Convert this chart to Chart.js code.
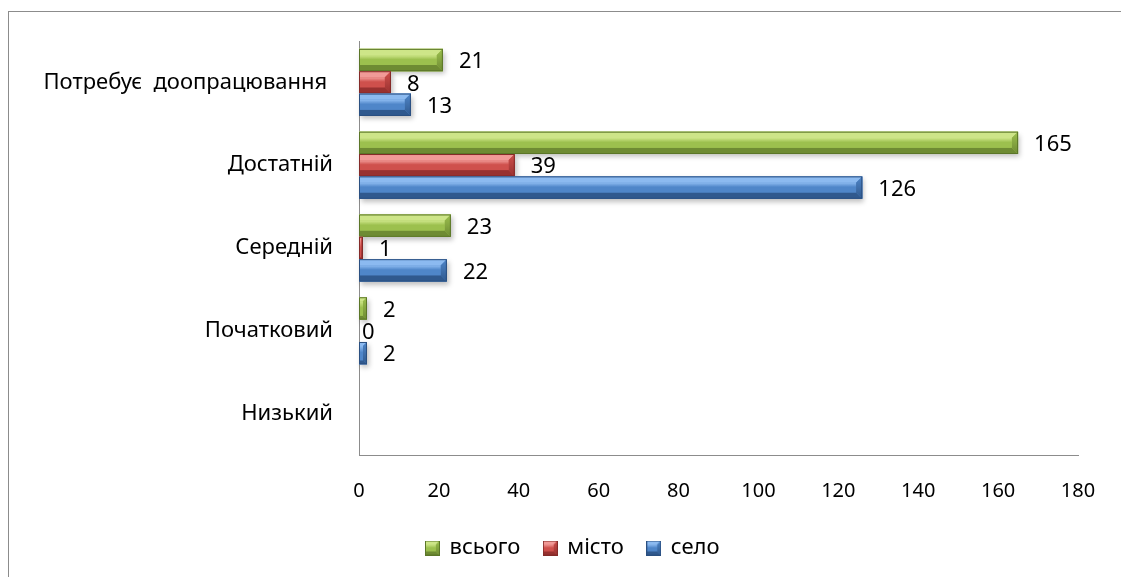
<!DOCTYPE html>
<html>
<head>
<meta charset="utf-8">
<script src="https://cdn.jsdelivr.net/npm/chart.js@4.4.1/dist/chart.umd.min.js"></script>
<style>
  html, body {margin: 0; padding: 0; background: #fff; overflow: hidden;}
  #frame {position: absolute; left: 8px; top: 11px; width: 1128px; height: 600px; border: 1px solid #8c8c8c;}
  #wrap {position: absolute; left: 9px; top: 12px; width: 1128px; height: 565px;}
</style>
</head>
<body>
<div id="frame"></div>
<div id="wrap"><canvas id="chart"></canvas></div>
<script>
const categories = ['Потребує  доопрацювання ', 'Достатній', 'Середній', 'Початковий', 'Низький'];
const seriesNames = ['всього', 'місто', 'село'];
const totalValues = [21, 165, 23, 2, null];
const cityValues = [8, 39, 1, 0, null];
const villageValues = [13, 126, 22, 2, null];
const xTicks = [0, 20, 40, 60, 80, 100, 120, 140, 160, 180];

const FONT = '"Noto Sans", sans-serif';

// light / face / dark / outline for each series
const palettes = [
  {light: '#cde588', face: '#9cc04e', dark: '#6e8b33', line: '#5b7628'},
  {light: '#f19a97', face: '#cf504c', dark: '#983130', line: '#842a28'},
  {light: '#8cbaf0', face: '#4f86c9', dark: '#30598e', line: '#2a4f80'}
];

function bevel(ctx, x0, x1, y0, y1, p) {
  if (x1 - x0 < 0.5) return;
  const h = y1 - y0;
  const d = Math.min(h * 0.28, (x1 - x0) / 2);
  ctx.save();
  ctx.fillStyle = p.face;
  ctx.fillRect(x0, y0, x1 - x0, h);
  // top facet
  ctx.fillStyle = p.light;
  ctx.beginPath();
  ctx.moveTo(x0, y0); ctx.lineTo(x1, y0); ctx.lineTo(x1 - d, y0 + d); ctx.lineTo(x0, y0 + d);
  ctx.fill();
  // bottom facet
  ctx.fillStyle = p.dark;
  ctx.beginPath();
  ctx.moveTo(x0, y1); ctx.lineTo(x1, y1); ctx.lineTo(x1 - d, y1 - d); ctx.lineTo(x0, y1 - d);
  ctx.fill();
  // right facet
  const g = ctx.createLinearGradient(0, y0, 0, y1);
  g.addColorStop(0, p.face); g.addColorStop(1, p.dark);
  ctx.fillStyle = g;
  ctx.beginPath();
  ctx.moveTo(x1, y0); ctx.lineTo(x1, y1); ctx.lineTo(x1 - d, y1 - d); ctx.lineTo(x1 - d, y0 + d);
  ctx.fill();
  // face gradient
  const f = ctx.createLinearGradient(0, y0 + d, 0, y1 - d);
  f.addColorStop(0, p.light); f.addColorStop(0.45, p.face); f.addColorStop(1, p.face);
  ctx.fillStyle = f;
  ctx.fillRect(x0, y0 + d, Math.max(0, x1 - d - x0), h - 2 * d);
  ctx.strokeStyle = p.line;
  ctx.lineWidth = 1;
  ctx.strokeRect(x0 + 0.5, y0 + 0.5, x1 - x0 - 1, h - 1);
  ctx.restore();
}

function legendIcon(p) {
  const c = document.createElement('canvas');
  c.width = 15; c.height = 15;
  bevel(c.getContext('2d'), 0, 15, 0, 15, p);
  return c;
}
const icons = palettes.map(legendIcon);

const bevelBars = {
  id: 'bevelBars',
  afterLayout(chart) {
    // centre the legend on the whole chart, not on the padded part
    const lg = chart.legend;
    lg.left = 0; lg.right = chart.width; lg.width = chart.width;
  },
  beforeDatasetsDraw(chart) {
    const ctx = chart.ctx;
    chart.data.datasets.forEach((ds, i) => {
      chart.getDatasetMeta(i).data.forEach((bar, j) => {
        if (ds.data[j] == null || ds.data[j] === 0) return;
        const h = bar.height;
        ctx.save();
        ctx.shadowColor = 'rgba(0,0,0,0.25)';
        ctx.shadowBlur = 5;
        ctx.shadowOffsetX = 2;
        ctx.shadowOffsetY = 3;
        ctx.fillStyle = '#fff';
        ctx.fillRect(bar.base, bar.y - h / 2, bar.x - bar.base, h);
        ctx.restore();
      });
    });
  },
  afterDatasetsDraw(chart) {
    const ctx = chart.ctx;
    chart.data.datasets.forEach((ds, i) => {
      chart.getDatasetMeta(i).data.forEach((bar, j) => {
        const v = ds.data[j];
        if (v == null) return;
        const h = bar.height;
        bevel(ctx, bar.base, bar.x, bar.y - h / 2, bar.y + h / 2, palettes[i]);
        ctx.save();
        ctx.fillStyle = '#000';
        ctx.font = '22px ' + FONT;
        ctx.textBaseline = 'middle';
        ctx.textAlign = 'left';
        ctx.fillText(String(v), bar.x + (v === 0 ? 3 : 16), bar.y + 2);
        ctx.restore();
      });
    });
  }
};

const series = [totalValues, cityValues, villageValues];
new Chart(document.getElementById('chart'), {
  type: 'bar',
  data: {
    labels: categories,
    datasets: series.map((vals, i) => ({
      label: seriesNames[i],
      data: vals,
      backgroundColor: palettes[i].face,
      borderWidth: 0,
      categoryPercentage: 0.81,
      barPercentage: 1.0
    }))
  },
  options: {
    indexAxis: 'y',
    responsive: true,
    maintainAspectRatio: false,
    animation: false,
    layout: {padding: {left: 0, right: 59, top: 29, bottom: 8}},
    scales: {
      x: {
        min: 0, max: 180,
        afterBuildTicks: s => { s.ticks = xTicks.map(v => ({value: v})); },
        afterFit: s => { s.height = 58; s.paddingTop = 0; s.paddingBottom = 0; },
        grid: {display: false, drawTicks: false},
        border: {display: true, color: '#8c8c8c', width: 1},
        ticks: {padding: 24, color: '#000', font: {family: FONT, size: 20}, maxRotation: 0}
      },
      y: {
        afterFit: s => { s.width = 350; s.paddingTop = 0; s.paddingBottom = 0; },
        grid: {display: false, drawTicks: false},
        border: {display: true, color: '#8c8c8c', width: 1},
        ticks: {padding: 26, color: '#000', font: {family: FONT, size: 22}}
      }
    },
    plugins: {
      tooltip: {enabled: false},
      legend: {
        position: 'bottom',
        labels: {
          usePointStyle: true,
          boxWidth: 12,
          padding: 24,
          color: '#000',
          font: {family: FONT, size: 22},
          generateLabels(chart) {
            const items = Chart.defaults.plugins.legend.labels.generateLabels(chart);
            items.forEach((it, i) => { it.pointStyle = icons[i]; });
            return items;
          }
        }
      }
    }
  },
  plugins: [bevelBars]
});
</script>
</body>
</html>
